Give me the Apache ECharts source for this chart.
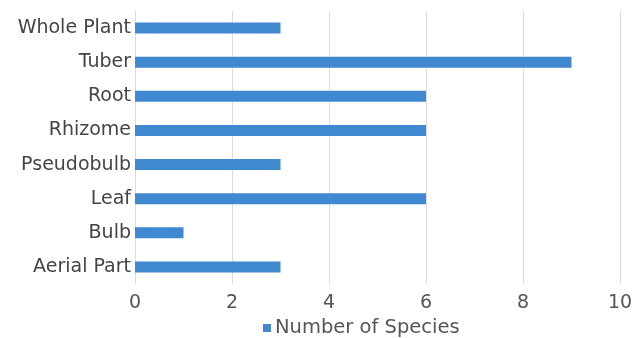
<!DOCTYPE html>
<html>
<head>
<meta charset="utf-8">
<script src="https://cdn.jsdelivr.net/npm/echarts@6/dist/echarts.min.js"></script>
<style>
  html, body { margin: 0; padding: 0; background: #fff; }
  #chart { width: 636px; height: 338px; }
</style>
</head>
<body>
<div id="chart"></div>
<script>
// Plant parts used, listed bottom to top as on the category axis
const categories = ['Aerial Part', 'Bulb', 'Leaf', 'Pseudobulb', 'Rhizome', 'Root', 'Tuber', 'Whole Plant'];
const speciesCounts = [3, 1, 6, 3, 6, 6, 9, 3];
const seriesName = 'Number of Species';

const chart = echarts.init(document.getElementById('chart'), null, { renderer: 'canvas' });
chart.setOption({
  animation: false,
  textStyle: { fontFamily: 'DejaVu Sans, Liberation Sans, Arial, sans-serif' },
  grid: { left: 135, right: 16, top: 11, bottom: 54, containLabel: false },
  legend: {
    top: 318,
    left: 263,
    itemWidth: 8,
    itemHeight: 8,
    icon: 'rect',
    itemGap: 6,
    padding: 0,
    textStyle: { fontSize: 19.5, color: '#555', padding: [0, 0, 0, -1] },
    data: [seriesName]
  },
  xAxis: {
    type: 'value',
    min: 0,
    max: 10,
    interval: 2,
    axisLine: { show: false },
    axisTick: { show: false },
    splitLine: { show: true, lineStyle: { color: '#dcdcdc', width: 1 } },
    axisLabel: { fontSize: 19, color: '#555', margin: 10 }
  },
  yAxis: {
    type: 'category',
    data: categories,
    axisLine: { show: true, lineStyle: { color: '#dcdcdc' } },
    axisTick: { show: false },
    axisLabel: { fontSize: 19, color: '#444', margin: 4 }
  },
  series: [{
    name: seriesName,
    type: 'bar',
    data: speciesCounts,
    barWidth: 11,
    itemStyle: { color: '#4088d0' }
  }]
});
</script>
</body>
</html>
